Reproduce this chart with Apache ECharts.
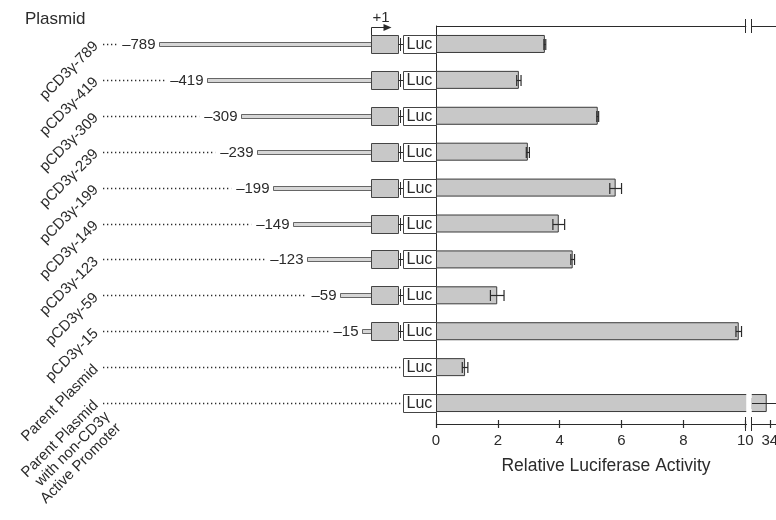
<!DOCTYPE html>
<html lang="en">
<head>
<meta charset="UTF-8">
<title>Relative Luciferase Activity</title>
<style>
  html, body { margin: 0; padding: 0; background: #fff; }
  #app { width: 776px; height: 520px; }
</style>
</head>
<body>
<div id="app"></div>
<script src="https://cdn.jsdelivr.net/npm/echarts@6/dist/echarts.min.js"></script>
<script>
var plasmids = ['pCD3γ-789', 'pCD3γ-419', 'pCD3γ-309', 'pCD3γ-239', 'pCD3γ-199', 'pCD3γ-149',
    'pCD3γ-123', 'pCD3γ-59', 'pCD3γ-15', 'Parent Plasmid', 'Parent Plasmid\nwith non-CD3γ\nActive Promoter'];
var startLabels = ['–789', '–419', '–309', '–239', '–199', '–149', '–123', '–59', '–15', '', ''];
// promoter fragment length as drawn in the schematic (drawing is not to scale)
var fragmentLength = [212, 164, 130, 114, 98, 78, 64, 31, 9, null, null];
var activity = [3.52, 2.68, 5.23, 2.97, 5.81, 3.97, 4.42, 1.98, 9.79, 0.94, 33.9];
var activityErr = [0.03, 0.07, 0.03, 0.05, 0.19, 0.19, 0.06, 0.22, 0.09, 0.09, 0.6];
var tickValues = [0, 2, 4, 6, 8, 10, 34];
var axisBreak = { start: 10.03, end: 33.4 };

var FONT = '"Liberation Sans", Arial, sans-serif';
var INK = '#2b2b2b';
var BOX_H = 18;

var measure = document.createElement('canvas').getContext('2d');
measure.font = '15px ' + FONT;

var chart = echarts.init(document.getElementById('app'));

function px(v) { return Math.round(v) + 0.5; }

function renderConstruct(params, api) {
    var i = params.dataIndex;
    var cs = params.coordSys;
    var y = Math.round(api.coord([0, i])[1]);
    var x0 = px(api.coord([0, i])[0]);
    var xBoxEnd = px(api.coord([27, i])[0]);
    var xLuc = px(api.coord([32, i])[0]);
    var xLucEnd = px(api.coord([65, i])[0]);
    var top = y - BOX_H / 2 + 0.5;
    var kids = [];
    var dot = { stroke: INK, lineWidth: 1.4, lineDash: [1.3, 2.7] };
    var thin = { stroke: INK, lineWidth: 1, fill: null };

    if (fragmentLength[i] == null) {
        kids.push({ type: 'line', shape: { x1: cs.x + 3, y1: y + 0.5, x2: xLuc - 1, y2: y + 0.5 }, style: dot });
    } else {
        var xs = px(api.coord([api.value(0), i])[0]);
        var w = measure.measureText(startLabels[i]).width;
        kids.push({ type: 'rect', shape: { x: xs, y: y - 1.5, width: x0 - xs, height: 4 },
            style: { fill: '#d6d6d6', stroke: '#444', lineWidth: 0.8 } });
        kids.push({ type: 'text', style: { text: startLabels[i], x: xs - 4, y: y + 1, align: 'right',
            verticalAlign: 'middle', font: '15px ' + FONT, fill: INK } });
        kids.push({ type: 'line', shape: { x1: cs.x + 3, y1: y + 0.5, x2: xs - 9 - w, y2: y + 0.5 }, style: dot });
        kids.push({ type: 'rect', shape: { x: x0, y: top, width: xBoxEnd - x0, height: BOX_H },
            style: { fill: '#c8c8c8', stroke: '#444', lineWidth: 1 } });
        kids.push({ type: 'line', shape: { x1: xBoxEnd, y1: y + 0.5, x2: xLuc, y2: y + 0.5 }, style: thin });
        kids.push({ type: 'line', shape: { x1: xBoxEnd + 2, y1: y - 6, x2: xBoxEnd + 2, y2: y + 7 }, style: thin });
        if (i === 0) {
            kids.push({ type: 'polyline', shape: { points: [[x0, top], [x0, top - 8], [x0 + 14, top - 8]] }, style: thin });
            kids.push({ type: 'polygon', shape: { points: [[x0 + 12, top - 11.5], [x0 + 20, top - 8], [x0 + 12, top - 4.5]] },
                style: { fill: INK } });
            kids.push({ type: 'text', style: { text: '+1', x: x0 + 1, y: top - 10, verticalAlign: 'bottom',
                font: '15px ' + FONT, fill: INK } });
        }
    }
    kids.push({ type: 'rect', shape: { x: xLuc, y: top, width: xLucEnd - xLuc, height: BOX_H },
        style: { fill: '#fff', stroke: '#444', lineWidth: 1 } });
    kids.push({ type: 'text', style: { text: 'Luc', x: xLuc + 3, y: y + 1, verticalAlign: 'middle',
        font: '16px ' + FONT, fill: INK } });
    return { type: 'group', children: kids };
}

function renderError(params, api) {
    var row = api.value(2);
    var lo = api.coord([api.value(0), row]);
    var hi = api.coord([api.value(1), row]);
    var y = Math.round(lo[1]) + 0.5;
    var st = { stroke: INK, lineWidth: 1.2 };
    return { type: 'group', children: [
        { type: 'line', shape: { x1: lo[0], y1: y, x2: hi[0], y2: y }, style: st },
        { type: 'line', shape: { x1: lo[0], y1: y - 5.5, x2: lo[0], y2: y + 5.5 }, style: st },
        { type: 'line', shape: { x1: hi[0], y1: y - 5.5, x2: hi[0], y2: y + 5.5 }, style: st }
    ] };
}

function renderBreakMarks(params, api) {
    var cs = params.coordSys;
    var a = Math.round(api.coord([api.value(0), 0])[0]) - 0.5;
    var b = Math.round(api.coord([api.value(1), 0])[0]) + 0.5;
    var kids = [];
    [cs.y, cs.y + cs.height + 3].forEach(function (yy) {
        [a, b].forEach(function (xx) {
            kids.push({ type: 'line', shape: { x1: xx, y1: yy - 7, x2: xx, y2: yy + 7 }, style: { stroke: INK, lineWidth: 1 } });
        });
    });
    return { type: 'group', children: kids };
}

var breaks = [{ start: axisBreak.start, end: axisBreak.end, gap: '1.5%' }];
var breakArea = { show: true, itemStyle: { color: '#fff', borderColor: 'rgba(0,0,0,0)', borderWidth: 0, opacity: 1 },
    zigzagAmplitude: 0, expandOnClick: false };

var valueAxisBase = { gridIndex: 1, type: 'value', min: 0, max: 34.2, breaks: breaks, breakArea: breakArea,
    splitLine: { show: false } };

var option = {
    animation: false,
    title: { text: 'Plasmid', left: 25, top: 11, padding: 0,
        textStyle: { fontFamily: FONT, fontSize: 17, fontWeight: 'normal', color: INK } },
    grid: [
        { left: 100, top: 26, width: 336, height: 395, outerBoundsMode: 'none', containLabel: false },
        { left: 436, top: 26, width: 340, height: 395, outerBoundsMode: 'none', containLabel: false }
    ],
    xAxis: [
        { gridIndex: 0, type: 'value', min: -271, max: 65, show: false },
        Object.assign({}, valueAxisBase, {
            position: 'bottom', offset: 3,
            axisLine: { show: true, lineStyle: { color: INK, width: 1 } },
            axisTick: { show: true, length: 4, customValues: tickValues, lineStyle: { color: INK, width: 1.2 } },
            axisLabel: { customValues: tickValues, margin: 9, fontSize: 15, fontFamily: FONT, color: INK },
            name: 'Relative Luciferase Activity', nameLocation: 'middle', nameGap: 33,
            nameTextStyle: { fontFamily: FONT, fontSize: 17.5, color: INK }
        }),
        Object.assign({}, valueAxisBase, {
            position: 'bottom', offset: 3, breakArea: { show: false },
            axisLine: { show: false },
            axisTick: { show: true, inside: true, length: 4, customValues: tickValues, lineStyle: { color: INK, width: 1.2 } },
            axisLabel: { show: false }
        }),
        Object.assign({}, valueAxisBase, {
            position: 'top',
            axisLine: { show: true, lineStyle: { color: INK, width: 1 } },
            axisTick: { show: false },
            axisLabel: { show: false }
        })
    ],
    yAxis: [
        { gridIndex: 0, type: 'category', inverse: true, data: plasmids,
          axisLine: { show: false }, axisTick: { show: false },
          axisLabel: { interval: 0, rotate: 45, margin: 4, fontSize: 15, lineHeight: 16, fontFamily: FONT, color: INK,
              // keep the first line of the three-line label level with its row
              formatter: function (v) { return v.indexOf('\n') > 0 ? '\n\n' + v : v; } } },
        { gridIndex: 1, type: 'category', inverse: true, data: plasmids,
          axisLine: { show: true, lineStyle: { color: INK, width: 1 } }, axisTick: { show: false }, axisLabel: { show: false } }
    ],
    series: [
        { type: 'custom', xAxisIndex: 0, yAxisIndex: 0, clip: false, renderItem: renderConstruct,
          data: plasmids.map(function (p, i) { return [fragmentLength[i] == null ? 0 : -fragmentLength[i], i]; }) },
        { type: 'bar', xAxisIndex: 1, yAxisIndex: 1, barWidth: BOX_H, data: activity,
          itemStyle: { color: '#c8c8c8', borderColor: '#3a3a3a', borderWidth: 1 } },
        { type: 'custom', xAxisIndex: 1, yAxisIndex: 1, clip: false, renderItem: renderError, z: 3,
          encode: { x: [0, 1], y: 2 },
          data: activity.map(function (v, i) { return [v - activityErr[i], v + activityErr[i], i]; }) },
        { type: 'custom', xAxisIndex: 1, yAxisIndex: 1, clip: false, renderItem: renderBreakMarks, z: 200,
          encode: { x: [0, 1] },
          data: [[axisBreak.start, axisBreak.end]] }
    ]
};
chart.setOption(option);
</script>
</body>
</html>
